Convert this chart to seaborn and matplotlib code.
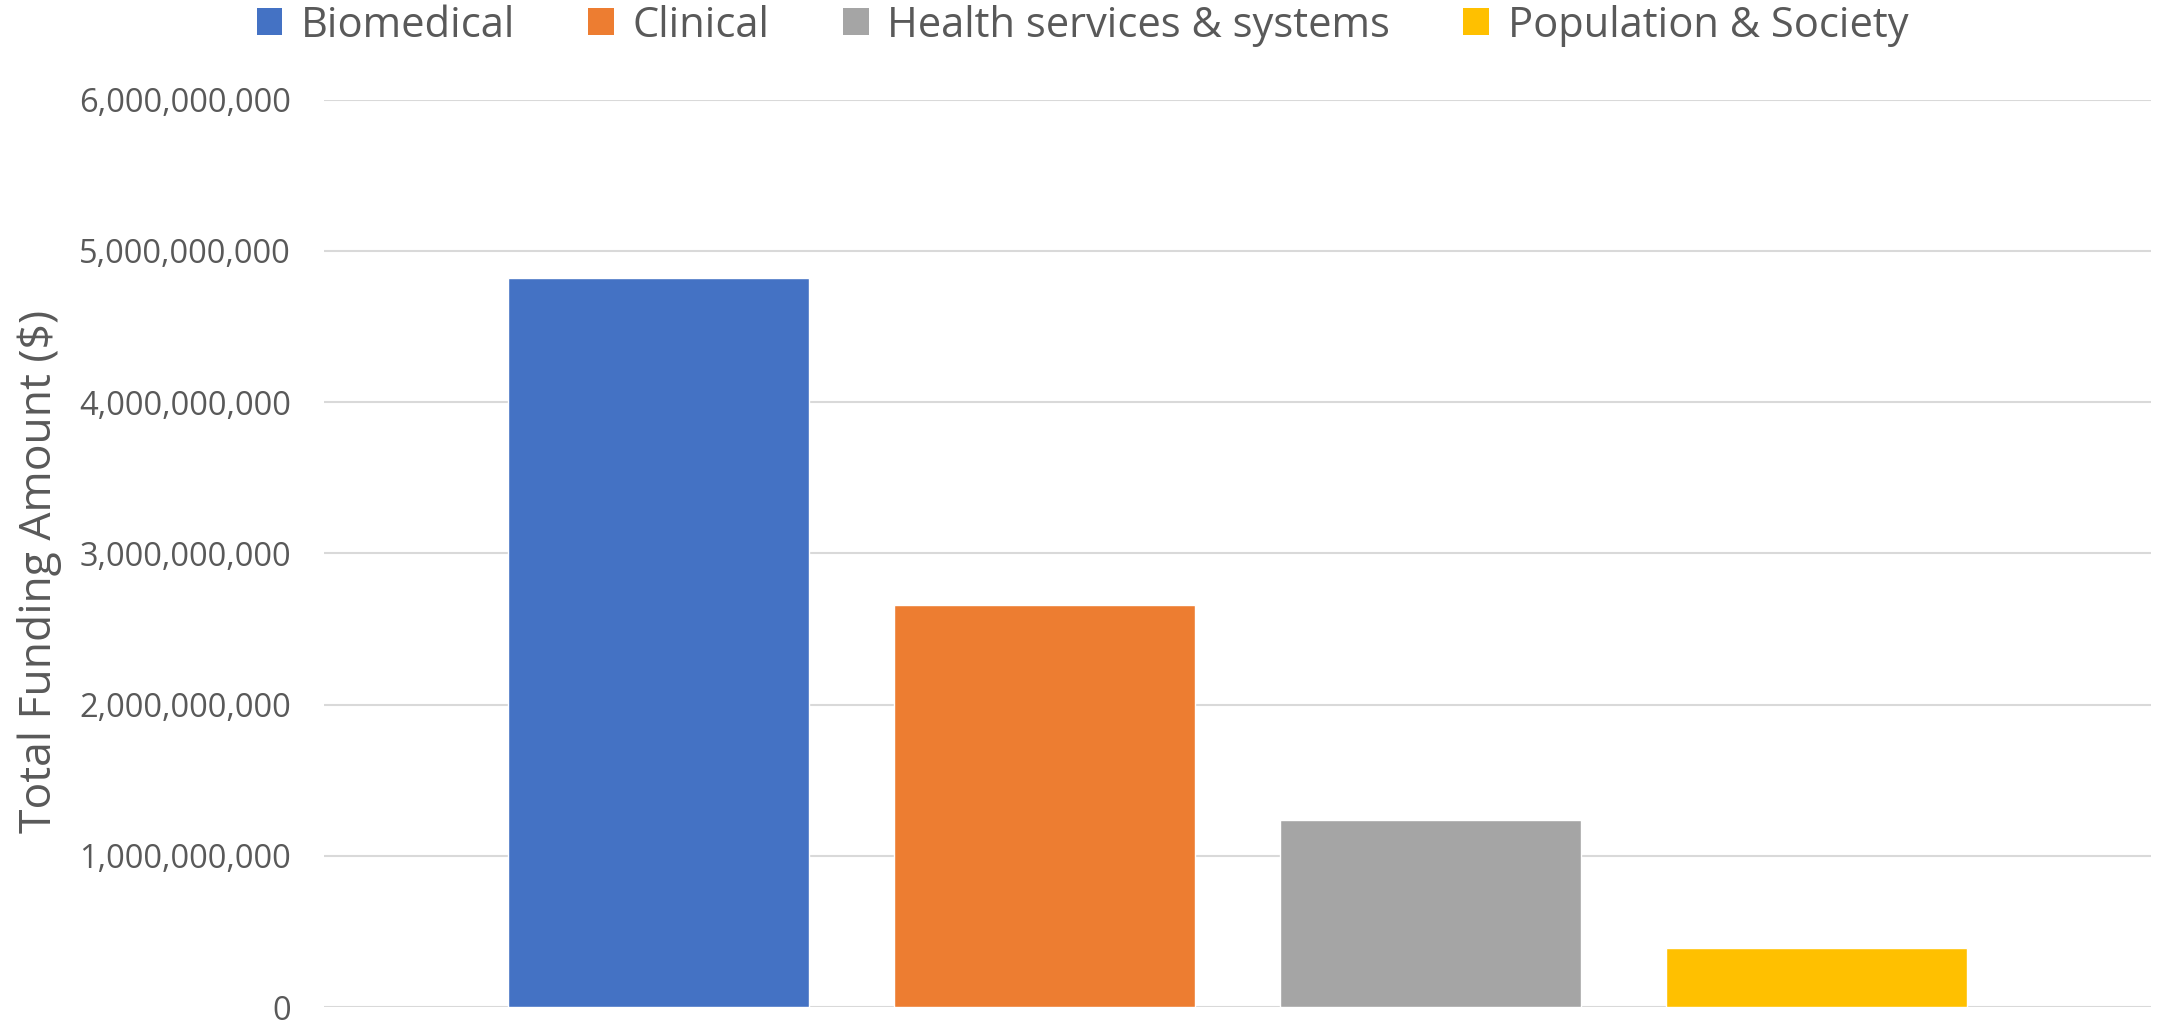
import matplotlib
matplotlib.use("Agg")
import matplotlib.pyplot as plt
import matplotlib.ticker as mticker
from matplotlib.patches import Patch
import seaborn as sns
import pandas as pd

# data
categories = ["Biomedical", "Clinical", "Health services & systems", "Population & Society"]
funding = [4.82e9, 2.655e9, 1.238e9, 0.392e9]
colors = ["#4472C4", "#ED7D31", "#A5A5A5", "#FFC000"]
y_ticks = [0, 1e9, 2e9, 3e9, 4e9, 5e9, 6e9]

df = pd.DataFrame({"category": categories, "amount": funding})

sns.set_style("white")
plt.rcParams["font.family"] = ["Open Sans", "DejaVu Sans"]

fig = plt.figure(figsize=(21.65, 10.26), dpi=100)
ax = fig.add_axes([0.1497, 0.0185, 0.8438, 0.8845])

sns.barplot(data=df, x="category", y="amount", hue="category",
            palette=colors, width=0.78, dodge=False, legend=False,
            saturation=1, ax=ax, zorder=3)

ax.set_xlim(-0.8676, 3.8676)
ax.set_ylim(0, 6e9)
ax.set_yticks(y_ticks)
ax.yaxis.set_major_formatter(mticker.FuncFormatter(lambda v, p: f"{int(v):,}"))
ax.grid(axis="y", color="#D9D9D9", linewidth=1.5, zorder=0)
ax.set_axisbelow(True)
for s in ax.spines.values():
    s.set_visible(False)
ax.set_xticks([])
ax.set_xlabel("")
ax.tick_params(axis="y", length=0, pad=24, labelsize=23.5, labelcolor="#595959")
ax.set_ylabel("Total Funding Amount ($)", fontsize=32, color="#595959", va="center")
ax.yaxis.set_label_coords(-0.156, 0.48)

handles = [Patch(facecolor=c, edgecolor="none") for c in colors]
fig.legend(handles, categories, loc="center", bbox_to_anchor=(0.5, 0.975),
           ncol=4, frameon=False, fontsize=30, labelcolor="#595959",
           handlelength=0.62, handleheight=0.62, handletextpad=0.45, columnspacing=1.75,
           borderpad=0)

fig.savefig("out.png", dpi=100)
